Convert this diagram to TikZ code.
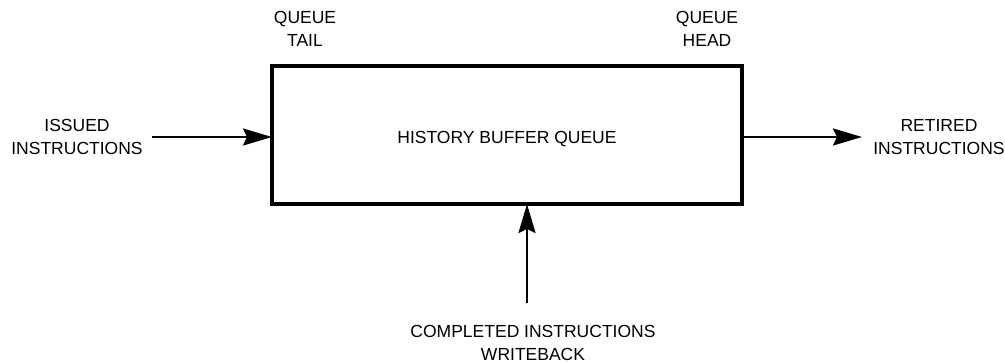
\documentclass[tikz,border=0pt]{standalone}
\usepackage{fontspec}
\setmainfont{Liberation Sans}
\usetikzlibrary{arrows.meta}
\begin{document}
\begin{tikzpicture}[x=1pt,y=1pt,
  lbl/.style={align=center,inner sep=0pt,font=\fontsize{17.5}{22.5}\selectfont},
  flow/.style={line width=2.6pt,-{Stealth[length=29pt,width=17pt,inset=4pt]}},
  bufbox/.style={draw,line width=4pt,minimum width=470pt,minimum height=138pt,inner sep=0pt,outer sep=0pt}]
\useasboundingbox (0,0) rectangle (1005,-364);
\node[bufbox,lbl,text height=12.6pt,text depth=0pt] (box) at (507,-135) {\raisebox{-2pt}{HISTORY BUFFER QUEUE}};
\node[lbl] (tail) at (305,-29) {QUEUE\\TAIL};
\node[lbl] (head) at (707,-29) {QUEUE\\HEAD};
\node[lbl] (issued) at (77,-137) {ISSUED\\INSTRUCTIONS};
\node[lbl] (retired) at (939,-137) {RETIRED\\INSTRUCTIONS};
\node[lbl] (compl) at (533,-343) {COMPLETED INSTRUCTIONS\\WRITEBACK};
\coordinate (inL) at (152,-137);
\coordinate (outR) at (862,-137);
\coordinate (inB) at (527,-303);
\draw[flow] (inL) -- (inL -| box.west);
\draw[flow] (outR -| box.east) -- (outR);
\draw[flow] (inB) -- (inB |- box.south);
\end{tikzpicture}
\end{document}
